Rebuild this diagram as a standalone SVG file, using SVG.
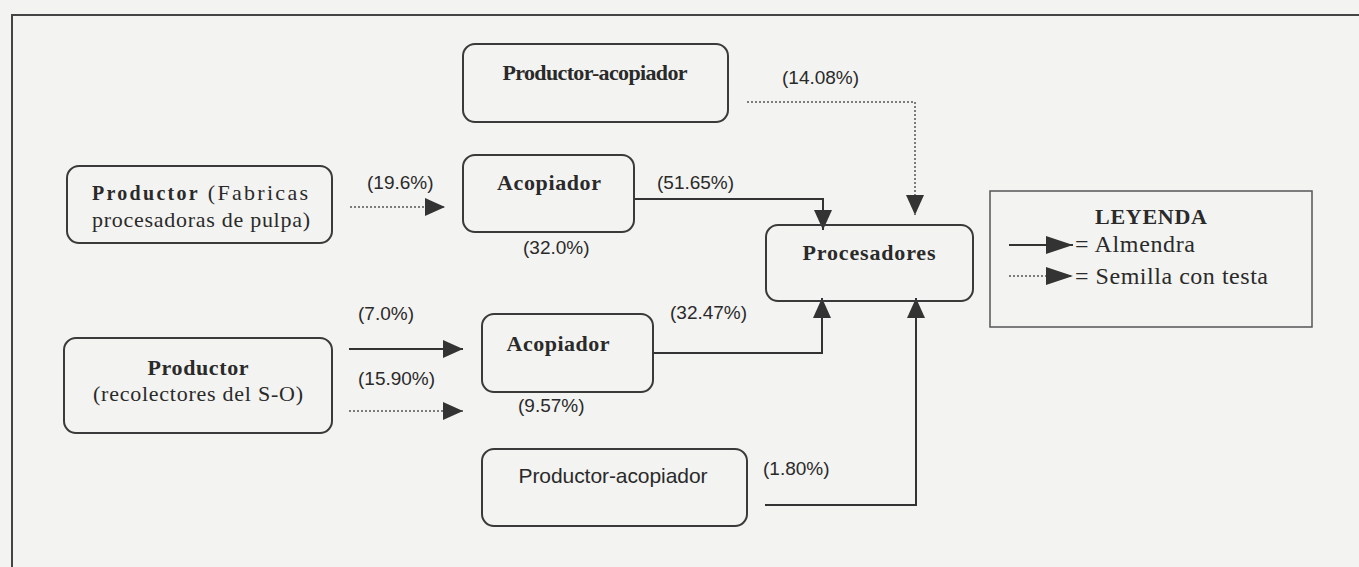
<svg xmlns="http://www.w3.org/2000/svg" width="1359" height="567" viewBox="0 0 1359 567">
<style>
.box{fill:none;stroke:#3a3a3a;stroke-width:2}
.t{font-family:"Liberation Serif",serif;font-size:22px;fill:#2a2a2a}
.tb{font-family:"Liberation Serif",serif;font-size:22px;font-weight:bold;fill:#2a2a2a}
.p{font-family:"Liberation Sans",Arial,sans-serif;font-size:19px;fill:#2a2a2a}
.solid{fill:none;stroke:#333;stroke-width:2}
.dot{fill:none;stroke:#555;stroke-width:1.5;stroke-dasharray:2 2}
</style>
<defs>
<marker id="ah" markerUnits="userSpaceOnUse" markerWidth="20" markerHeight="18" refX="20" refY="9" orient="auto">
<path d="M0,0 L20,9 L0,18 z" fill="#333"/>
</marker>
<marker id="ahl" markerUnits="userSpaceOnUse" markerWidth="27" markerHeight="18" refX="27" refY="9" orient="auto">
<path d="M0,0 L27,9 L0,18 z" fill="#333"/>
</marker>
</defs>
<rect width="1359" height="567" fill="#f3f3f1"/>
<path d="M12,567 V15 H1359" fill="none" stroke="#444" stroke-width="2"/>

<g id="connectors">
<path class="dot" d="M350,207 H445" marker-end="url(#ah)"/>
<path class="solid" d="M634,199 H823 V230" marker-end="url(#ah)"/>
<path class="dot" d="M747,102 H915 V215" marker-end="url(#ah)"/>
<path class="solid" d="M349,349 H463" marker-end="url(#ah)"/>
<path class="dot" d="M349,411 H463" marker-end="url(#ah)"/>
<path class="solid" d="M653,353 H822 V298" marker-end="url(#ah)"/>
<path class="solid" d="M765,505 H916 V298" marker-end="url(#ah)"/>
<text class="p" x="782" y="84">(14.08%)</text>
<text class="p" x="367" y="189">(19.6%)</text>
<text class="p" x="657" y="189">(51.65%)</text>
<text class="p" x="523" y="254">(32.0%)</text>
<text class="p" x="358" y="320">(7.0%)</text>
<text class="p" x="358" y="385">(15.90%)</text>
<text class="p" x="670" y="319">(32.47%)</text>
<text class="p" x="518" y="412">(9.57%)</text>
<text class="p" x="763" y="475">(1.80%)</text>
</g>

<g id="productor-acopiador-top">
<rect class="box" x="463" y="44" width="265" height="78" rx="12"/>
<text class="tb" x="595" y="80" text-anchor="middle" textLength="185">Productor-acopiador</text>
</g>

<g id="productor-fabricas">
<rect class="box" x="67" y="166" width="265" height="77" rx="12"/>
<text class="t" x="92" y="200" textLength="216"><tspan class="tb" style="font-size:20px">Productor</tspan>  (Fabricas</text>
<text class="t" x="92" y="227" textLength="218">procesadoras de pulpa)</text>
</g>

<g id="acopiador-1">
<rect class="box" x="463" y="155" width="171" height="77" rx="12"/>
<text class="tb" x="549" y="190" text-anchor="middle" textLength="104">Acopiador</text>
</g>

<g id="procesadores">
<rect class="box" x="766" y="225" width="207" height="76" rx="12"/>
<text class="tb" x="869" y="260" text-anchor="middle" textLength="133">Procesadores</text>
</g>

<g id="productor-recolectores">
<rect class="box" x="64" y="338" width="268" height="95" rx="12"/>
<text class="tb" x="198" y="375" text-anchor="middle" textLength="101">Productor</text>
<text class="t" x="198" y="401" text-anchor="middle" textLength="210">(recolectores del S-O)</text>
</g>

<g id="acopiador-2">
<rect class="box" x="482" y="314" width="171" height="78" rx="12"/>
<text class="tb" x="558" y="351" text-anchor="middle" textLength="103">Acopiador</text>
</g>

<g id="productor-acopiador-bottom">
<rect class="box" x="482" y="449" width="265" height="77" rx="12"/>
<text class="p" x="613" y="483" text-anchor="middle" style="font-size:21px" textLength="189">Productor-acopiador</text>
</g>

<g id="leyenda">
<rect x="990" y="191" width="322" height="136" fill="none" stroke="#555" stroke-width="1.5"/>
<text class="tb" x="1151" y="224" text-anchor="middle" textLength="112">LEYENDA</text>
<path class="solid" d="M1009,245 H1073" marker-end="url(#ahl)"/>
<text class="t" x="1075" y="252" style="font-size:24px" textLength="120">= Almendra</text>
<path class="dot" d="M1009,276 H1073" marker-end="url(#ahl)"/>
<text class="t" x="1075" y="284" style="font-size:24px" textLength="193">= Semilla con testa</text>
</g>
</svg>
